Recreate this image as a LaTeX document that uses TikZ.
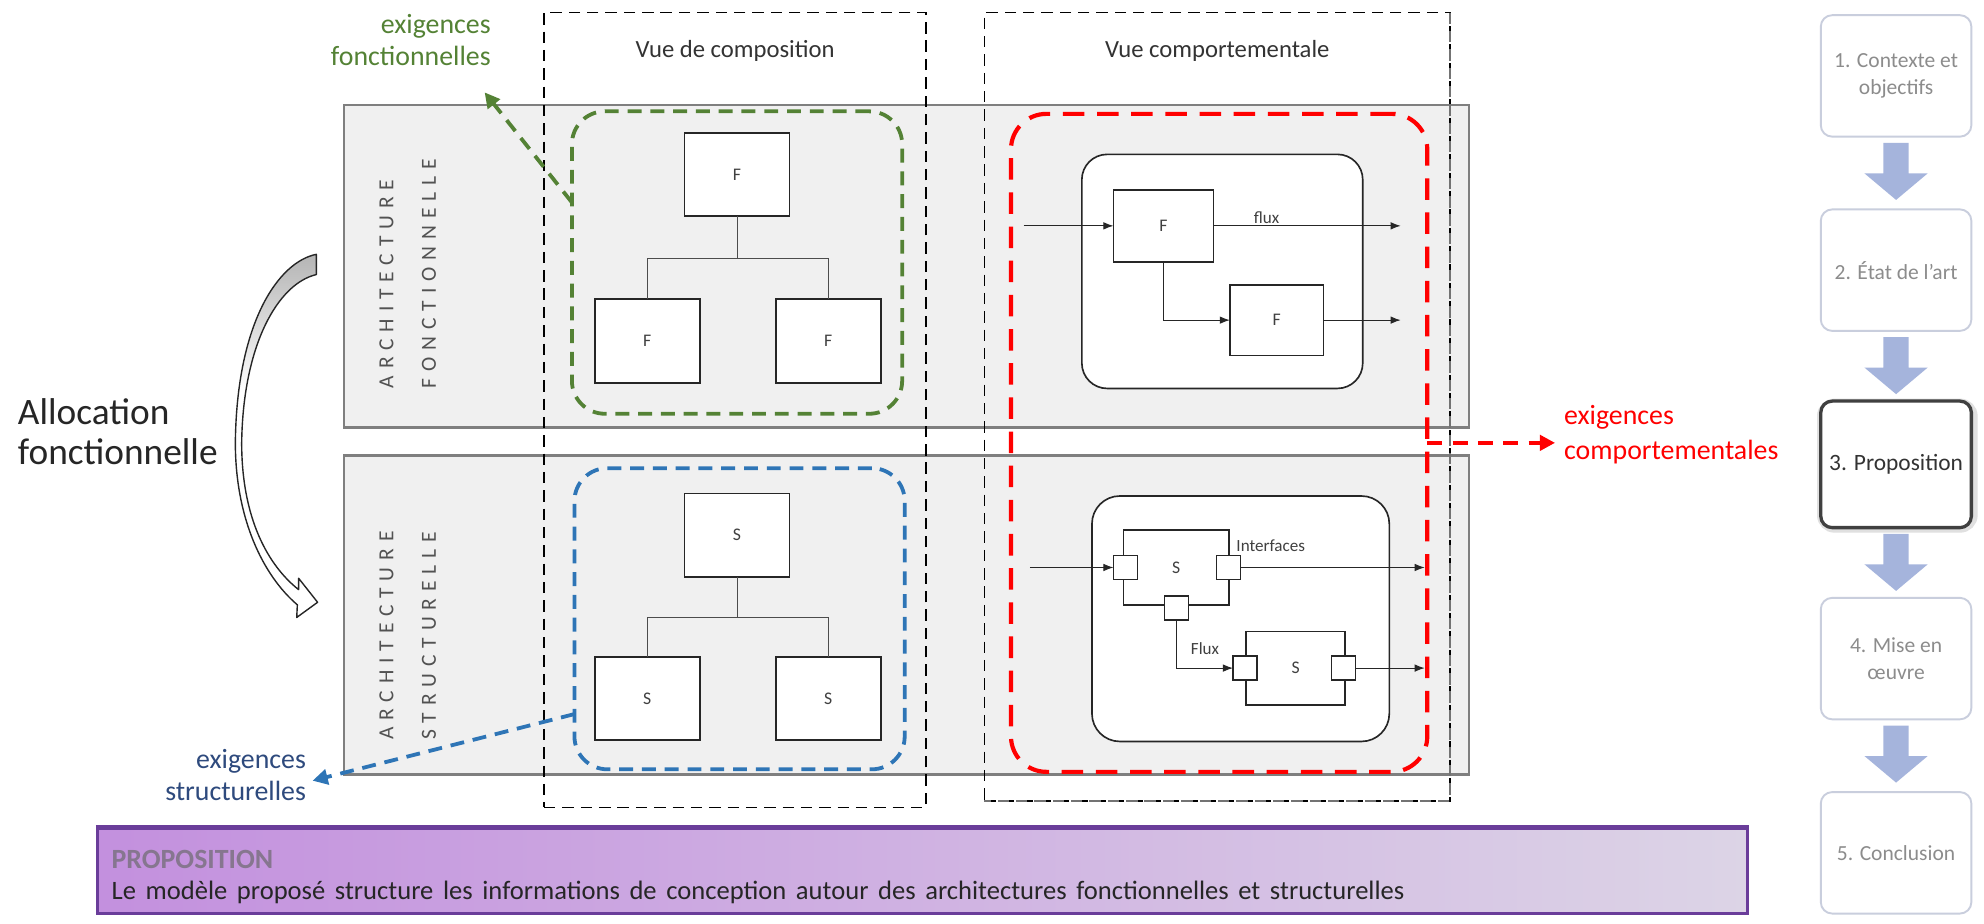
\documentclass[tikz,border=0pt]{standalone}
\usepackage{fontspec}
\setmainfont{Carlito}
\newfontfamily\spacedfont[LetterSpace=32]{Carlito}
\usetikzlibrary{arrows.meta,calc}
\definecolor{panelfill}{HTML}{F0F0F0}
\definecolor{panelborder}{HTML}{7F7F7F}
\definecolor{reqgreen}{HTML}{548235}
\definecolor{reqblue}{HTML}{2E75B6}
\definecolor{reqbluetext}{HTML}{2E4A7D}
\definecolor{reqred}{HTML}{FF0000}
\definecolor{sidebd}{HTML}{C9CEDD}
\definecolor{sidetxt}{HTML}{8C8C8C}
\definecolor{sidearrow}{HTML}{A5B4DC}
\definecolor{purpleL}{HTML}{C390DE}
\definecolor{purpleR}{HTML}{DCD4E6}
\definecolor{purplebd}{HTML}{6A3D9A}
\definecolor{proptitle}{HTML}{86768F}
\newcommand\allocpath{(250,201) .. controls (220,207) and (187,255) .. (186,350) .. controls (186,410) and (208,455) .. (235,478) -- (234.5,488) -- (251,476) -- (236,457) -- (236,466) .. controls (212,447) and (191,410) .. (191,350) .. controls (192,272) and (220,224) .. (250,217) -- cycle}
\tikzset{
  panel/.style={draw=panelborder, fill=panelfill, line width=2pt, inner sep=0pt, outer sep=0pt},
  colframe/.style={draw=black, line width=1.2pt, dash pattern=on 9pt off 5.5pt, inner sep=0pt, outer sep=0pt},
  reqbox/.style={rounded corners=26pt, line width=3pt, dash pattern=on 11pt off 7pt, inner sep=0pt, outer sep=0pt},
  blk/.style={draw=black!85, fill=white, line width=1.4pt, inner sep=0pt, outer sep=0pt, font=\fontsize{14}{16}\selectfont, text=black!75},
  port/.style={draw=black!85, fill=white, line width=1.1pt, minimum width=19pt, minimum height=19pt, inner sep=0pt, outer sep=0pt},
  behav/.style={draw=black!85, fill=white, line width=1.3pt, rounded corners=20pt, inner sep=0pt, outer sep=0pt},
  flow/.style={line width=0.8pt, draw=black!85, -{Latex[length=8pt,width=6pt]}},
  treeline/.style={line width=0.8pt, draw=black!70},
  coltitle/.style={font=\fontsize{19.5}{23}\selectfont, text=black!80},
  vtext/.style={rotate=90, anchor=west, inner sep=0pt, font=\spacedfont\fontsize{17}{20}\selectfont, text=black!68},
  smalllbl/.style={font=\fontsize{13.5}{16}\selectfont, text=black!75, inner sep=1pt},
  reqlbl/.style={font=\fontsize{22}{25.5}\selectfont, inner sep=0pt},
  sidebox/.style={draw=sidebd, fill=white, line width=1.5pt, rounded corners=9pt, minimum width=119pt, minimum height=96pt, inner sep=2pt, align=center, text=sidetxt, font=\fontsize{17}{21}\selectfont},
  darrow/.pic={\fill[sidearrow] (-10,0) -- (10,0) -- (10,24) -- (25,24) -- (0,45) -- (-25,24) -- (-10,24) -- cycle;}
}
\begin{document}
\begin{tikzpicture}[x=1pt,y=-1pt]
\useasboundingbox (0,0) rectangle (1568,730);
\fill[white] (0,0) rectangle (1568,730);

% panels
\node[panel, minimum width=889pt, minimum height=255pt] (pA) at (716.5,210.5) {};
\node[panel, minimum width=889pt, minimum height=252pt] (pB) at (716.5,486) {};

% vertical panel titles
\node[vtext] (vA1) at (305.5,307) {ARCHITECTURE};
\node[vtext] (vA2) at (339,307) {FONCTIONNELLE};
\node[vtext] (vB1) at (305.5,585) {ARCHITECTURE};
\node[vtext] (vB2) at (339,585) {STRUCTURELLE};

% view columns
\node[colframe, minimum width=302pt, minimum height=628pt] (col1) at (581,324) {};
\node[colframe, minimum width=368pt, minimum height=623pt] (col2) at (962,321.5) {};
\draw[colframe, draw=black!55] (col2.north east) -- (col2.south east) -- (col2.south west);
\node[coltitle] (t1) at (581,40) {Vue de composition};
\node[coltitle] (t2) at (962,40) {Vue comportementale};

% requirement boxes
\node[reqbox, draw=reqgreen, minimum width=261pt, minimum height=239pt] (gbox) at (582.5,207.5) {};
\node[reqbox, draw=reqblue, minimum width=261pt, minimum height=238pt] (bbox) at (584.5,489) {};
\node[reqbox, draw=reqred, line width=3.3pt, rounded corners=28pt, dash pattern=on 17pt off 10pt, minimum width=329pt, minimum height=520pt] (rbox) at (963.5,350) {};

% composition view : functions
\node[blk, minimum width=83pt, minimum height=66pt] (Ftop) at (582.5,138) {F};
\node[blk, minimum width=83pt, minimum height=66pt] (Fl) at (511.5,269.5) {F};
\node[blk, minimum width=83pt, minimum height=66pt] (Fr) at (654.5,269.5) {F};
\draw[treeline] (Ftop.south) -- ++(0,33) -| (Fl.north);
\draw[treeline] (Ftop.south) -- ++(0,33) -| (Fr.north);

% composition view : structures
\node[blk, minimum width=83pt, minimum height=66pt] (Stop) at (582.5,423) {S};
\node[blk, minimum width=83pt, minimum height=66pt] (Sl) at (511.5,552) {S};
\node[blk, minimum width=83pt, minimum height=66pt] (Sr) at (654.5,552) {S};
\draw[treeline] (Stop.south) -- ++(0,32) -| (Sl.north);
\draw[treeline] (Stop.south) -- ++(0,32) -| (Sr.north);

% behavioural view : functions
\node[behav, minimum width=222pt, minimum height=185pt] (bF) at (966,214.5) {};
\node[blk, minimum width=79pt, minimum height=57pt] (F1) at (919.5,178.5) {F};
\node[blk, minimum width=74pt, minimum height=56pt] (F2) at (1009,253) {F};
\coordinate (inF) at (809,178.5);
\coordinate (outF1) at (1107,178.5);
\coordinate (outF2) at (1107,253);
\draw[flow] (inF) -- (F1.west);
\draw[flow] (F1.east) -- (outF1);
\draw[flow] (F1.south) |- (F2.west);
\draw[flow] (F2.east) -- (outF2);
\node[smalllbl, anchor=south] (lflux) at (1001,178) {flux};

% behavioural view : structures
\node[behav, rounded corners=22pt, minimum width=235pt, minimum height=194pt] (bS) at (980.5,489) {};
\node[blk, minimum width=83pt, minimum height=59pt] (S1) at (929.5,448.5) {S};
\node[port] (pL) at (889.5,448.5) {};
\node[port] (pR) at (971,448.5) {};
\node[port] (pBt) at (930,480.5) {};
\node[blk, minimum width=78pt, minimum height=58pt] (S2) at (1024,528) {S};
\node[port] (qL) at (984,528) {};
\node[port] (qR) at (1062,528) {};
\coordinate (inS) at (814,448.5);
\coordinate (outS1) at (1126,448.5);
\coordinate (outS2) at (1126,528);
\draw[flow] (inS) -- (pL.west);
\draw[flow] (pR.east) -- (outS1);
\draw[flow] (pBt.south) |- (qL.west);
\draw[flow] (qR.east) -- (outS2);
\node[smalllbl, anchor=west] (lint) at (976,431) {Interfaces};
\node[smalllbl, anchor=west] (lflux2) at (940,513) {Flux};

% requirement labels and arrows
\node[reqlbl, text=reqgreen, anchor=east, align=right] (lg) at (388,31.5) {exigences\\fonctionnelles};
\node[reqlbl, text=reqbluetext, anchor=east, align=right] (lb) at (242,612.5) {exigences\\structurelles};
\node[reqlbl, text=reqred, anchor=west, align=left, font=\fontsize{22}{27}\selectfont] (lr) at (1236,343.5) {exigences\\comportementales};
\coordinate (gtip) at (383,73);
\coordinate (btip) at (247,617);
\coordinate (rtip) at (1229,350);
\draw[reqgreen, line width=3pt, dash pattern=on 11pt off 7pt, -{Triangle[length=12pt,width=12pt]}] (gbox.160) -- (gtip);
\draw[reqblue, line width=3pt, dash pattern=on 11pt off 7pt, -{Triangle[length=12pt,width=12pt]}] (bbox.210) -- (btip);
\draw[reqred, line width=3.3pt, dash pattern=on 12pt off 8pt, -{Triangle[length=12pt,width=12pt]}] (rbox.east) -- (rtip);

% allocation
\node[anchor=west, align=left, inner sep=0pt, font=\fontsize{29.5}{32}\selectfont, text=black!85] (alloc) at (14,341) {Allocation\\fonctionnelle};
\fill[white] \allocpath;
\begin{scope}
\clip \allocpath;
\shade[top color=black!30, bottom color=white] (180,198) rectangle (256,310);
\end{scope}
\draw[black!85, line width=1.1pt, line join=round] \allocpath;

% side bar
\node[sidebox] (s1) at (1498.5,60) {1. Contexte et\\objectifs};
\node[sidebox] (s2) at (1498.5,213.5) {2. État de l’art};
\node[draw=black!12, line width=6pt, rounded corners=11pt, minimum width=121pt, minimum height=100pt] (s3glow) at (1499.5,368) {};
\node[sidebox, draw=black!75, line width=2.6pt, minimum height=100pt, text=black!80, font=\fontsize{18.5}{22}\selectfont] (s3) at (1498.5,367) {3. Proposition};
\node[sidebox] (s4) at (1498.5,520.5) {4. Mise en\\œuvre};
\node[sidebox] (s5) at (1498.5,674) {5. Conclusion};
\pic at (1498.5,113) {darrow};
\pic at (1498.5,266.5) {darrow};
\pic at (1498.5,422) {darrow};
\pic at (1498.5,573.5) {darrow};

% proposition banner
\node[draw=purplebd, line width=2.5pt, left color=purpleL, right color=purpleR, minimum width=1304pt, minimum height=67pt, inner sep=0pt] (prop) at (729,688.5) {};
\draw[purplebd, line width=4pt] (prop.north west) -- (prop.north east);
\node[anchor=west, inner sep=0pt, text=proptitle, font=\bfseries\fontsize{22}{26}\selectfont] (ptitle) at (88,679) {PROPOSITION};
\node[anchor=west, inner sep=0pt, text=black!85, font=\fontsize{21}{25}\selectfont] (ptext) at (88,705) {\spaceskip=7.6pt plus 1pt Le modèle proposé structure les informations de conception autour des architectures fonctionnelles et structurelles};
\end{tikzpicture}
\end{document}
